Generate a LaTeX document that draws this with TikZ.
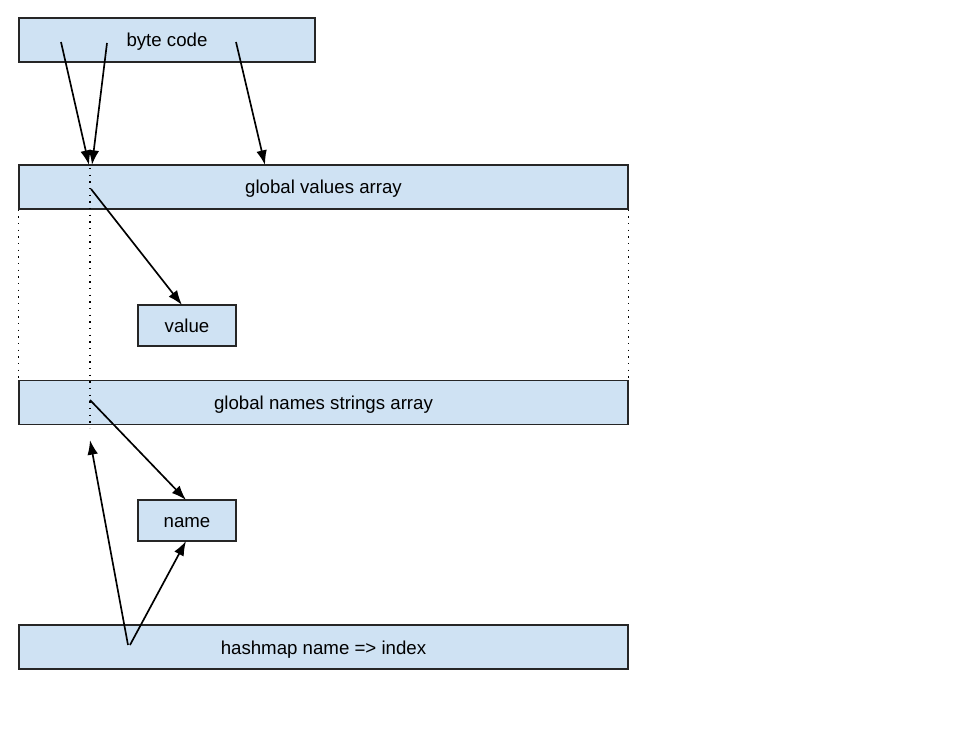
\documentclass[tikz,border=0pt]{standalone}
\usepackage{fontspec}
\setmainfont{Liberation Sans}
\usetikzlibrary{arrows.meta}
\definecolor{boxfill}{HTML}{CFE2F3}
\begin{document}
\begin{tikzpicture}[x=0.75pt,y=-0.75pt,
  box/.style={draw=black!85, line width=0.9pt, fill=boxfill, inner sep=0pt,
              font=\fontsize{14}{16}\selectfont, text height=10.5pt, text depth=0pt},
  wide/.style={box, minimum width=456.75pt, minimum height=33pt},
  small/.style={box, minimum width=73.5pt, minimum height=30.75pt},
  arr/.style={line width=1.25pt, -{Latex[length=11pt,width=8pt]}},
  dots/.style={line width=1.2pt, dash pattern=on 1pt off 4pt}]
\useasboundingbox (0,0) rectangle (956,737);

\node[box, minimum width=222pt, minimum height=33pt] (byte) at (167,40) {byte code};
\node[wide] (gva) at (323.5,187) {global values array};
\node[small] (value) at (187,325.5) {value};
\node[wide] (gnsa) at (323.5,402.5) {global names strings array};
\node[small] (name) at (187,520.5) {name};
\node[wide] (hash) at (323.5,647) {hashmap name => index};

% dotted guides
\draw[dots] (gva.south west) -- (gnsa.north west);
\draw[dots] (gva.south east) -- (gnsa.north east);
\coordinate (dtop) at (90,168);
\coordinate (dbot) at (90,428);
\draw[dots] (dtop) -- (dbot);

% arrow end points
\coordinate (b1) at (61,42);
\coordinate (b2) at (107,43);
\coordinate (b3) at (236,42);
\coordinate (v1) at (89,165);
\coordinate (v2) at (92,165);
\coordinate (v3) at (265,165);
\coordinate (vs) at (91,189);
\coordinate (vt) at (182,305);
\coordinate (ns) at (90,400);
\coordinate (nt) at (186,500);
\coordinate (h1) at (128,645);
\coordinate (h2) at (130,645);
\coordinate (ht) at (90,440);
\coordinate (nb) at (186,541);

\draw[arr] (b1) -- (v1);
\draw[arr] (b2) -- (v2);
\draw[arr] (b3) -- (v3);
\draw[arr] (vs) -- (vt);
\draw[arr] (ns) -- (nt);
\draw[arr] (h1) -- (ht);
\draw[arr] (h2) -- (nb);
\end{tikzpicture}
\end{document}
